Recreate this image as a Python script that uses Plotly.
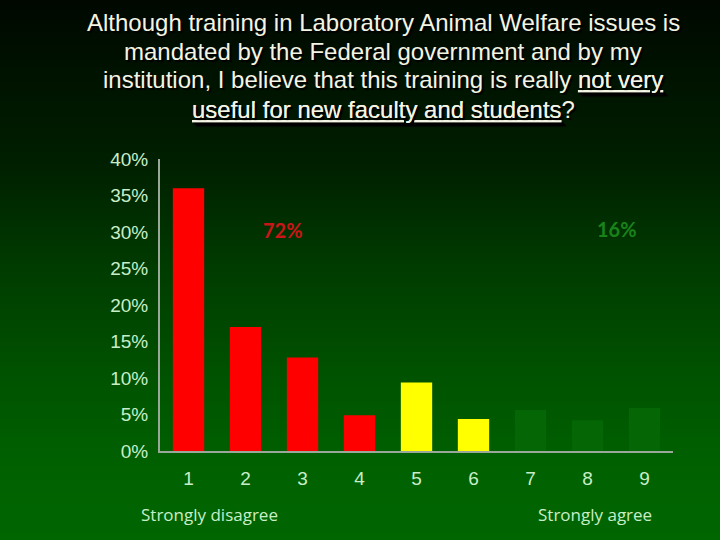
import base64
import plotly.graph_objects as go

categories = ["1", "2", "3", "4", "5", "6", "7", "8", "9"]
values = [36.0, 17.0, 12.8, 4.9, 9.4, 4.4, 5.6, 4.2, 5.9]
bar_colors = ["#ff0000", "#ff0000", "#ff0000", "#ff0000",
              "#ffff00", "#ffff00", "#056605", "#056605", "#056605"]
y_ticks = [0, 5, 10, 15, 20, 25, 30, 35, 40]
y_tick_labels = [f"{v}%" for v in y_ticks]
title_lines = [
    "Although training in Laboratory Animal Welfare issues is",
    "mandated by the Federal government and by my",
    "institution, I believe that this training is really <u>not very</u>",
    "<u>useful for new faculty and students</u>?",
]

W, H = 720, 540
L, R, T, B = 160, 47, 159, 89
pw, ph = W - L - R, H - T - B


def px(x):
    return (x - L) / pw


def py(y):
    return (H - B - y) / ph


svg = f"""<svg xmlns='http://www.w3.org/2000/svg' width='{W}' height='{H}' viewBox='0 0 {W} {H}' preserveAspectRatio='none'>
<defs><linearGradient id='g' x1='0' y1='0' x2='0' y2='1'>
<stop offset='0' stop-color='#000800'/>
<stop offset='0.3' stop-color='#001f00'/>
<stop offset='0.5' stop-color='#003c00'/>
<stop offset='0.7' stop-color='#005300'/>
<stop offset='0.85' stop-color='#006000'/>
<stop offset='1' stop-color='#006600'/>
</linearGradient></defs>
<rect x='0' y='0' width='{W}' height='{H}' fill='url(#g)'/></svg>"""
bg_uri = "data:image/svg+xml;base64," + base64.b64encode(svg.encode()).decode()

fig = go.Figure(go.Bar(
    x=categories, y=values, marker=dict(color=bar_colors, line=dict(width=0)),
    width=0.55, hoverinfo="skip",
))

annotations = []
line_y = [22, 51, 80, 109]
for txt, yy in zip(title_lines, line_y):
    annotations.append(dict(
        text=txt, xref="paper", yref="paper", x=px(383), y=py(yy),
        xanchor="center", yanchor="middle", showarrow=False,
        font=dict(family="Liberation Sans, Arial", size=24, color="#f4f4e4",
                  shadow="2px 2px 1px #000000"),
    ))
annotations += [
    dict(text="<b>72%</b>", xref="paper", yref="paper", x=px(283), y=py(230),
         showarrow=False, xanchor="center", yanchor="middle",
         font=dict(family="Lato, Open Sans", size=20, color="#c81616")),
    dict(text="<b>16%</b>", xref="paper", yref="paper", x=px(617), y=py(229),
         showarrow=False, xanchor="center", yanchor="middle",
         font=dict(family="Lato, Open Sans", size=20, color="#1a821a")),
    dict(text="Strongly disagree", xref="paper", yref="paper", x=px(209), y=py(514),
         showarrow=False, xanchor="center", yanchor="middle",
         font=dict(family="Open Sans, Lato", size=17, color="#c8eec8")),
    dict(text="Strongly agree", xref="paper", yref="paper", x=px(595), y=py(514),
         showarrow=False, xanchor="center", yanchor="middle",
         font=dict(family="Open Sans, Lato", size=17, color="#c8eec8")),
]

fig.update_layout(
    width=W, height=H,
    margin=dict(l=L, r=R, t=T, b=B, pad=0),
    paper_bgcolor="#004000",
    plot_bgcolor="rgba(0,0,0,0)",
    showlegend=False,
    bargap=0.45,
    annotations=annotations,
    images=[dict(source=bg_uri, xref="paper", yref="paper",
                 x=px(0), y=py(0), sizex=W / pw, sizey=H / ph,
                 xanchor="left", yanchor="top", sizing="stretch", layer="below")],
    xaxis=dict(
        type="category", range=[-0.5, 8.5], showgrid=False, zeroline=False,
        showline=True, linecolor="#9aa89a", linewidth=2,
        tickfont=dict(family="Liberation Sans, Arial", size=19, color="#c8eec8"),
        ticks="", ticklabelstandoff=9, fixedrange=True,
    ),
    yaxis=dict(
        range=[0, 40], tickvals=y_ticks, ticktext=y_tick_labels,
        showgrid=False, zeroline=False, showline=True,
        linecolor="#9aa89a", linewidth=2,
        tickfont=dict(family="Liberation Sans, Arial", size=19, color="#c8eec8"),
        ticks="", ticklabelstandoff=6, fixedrange=True,
    ),
)

fig.write_html("out.html", config={"displayModeBar": False},
               post_script="document.body.style.margin='0';")
